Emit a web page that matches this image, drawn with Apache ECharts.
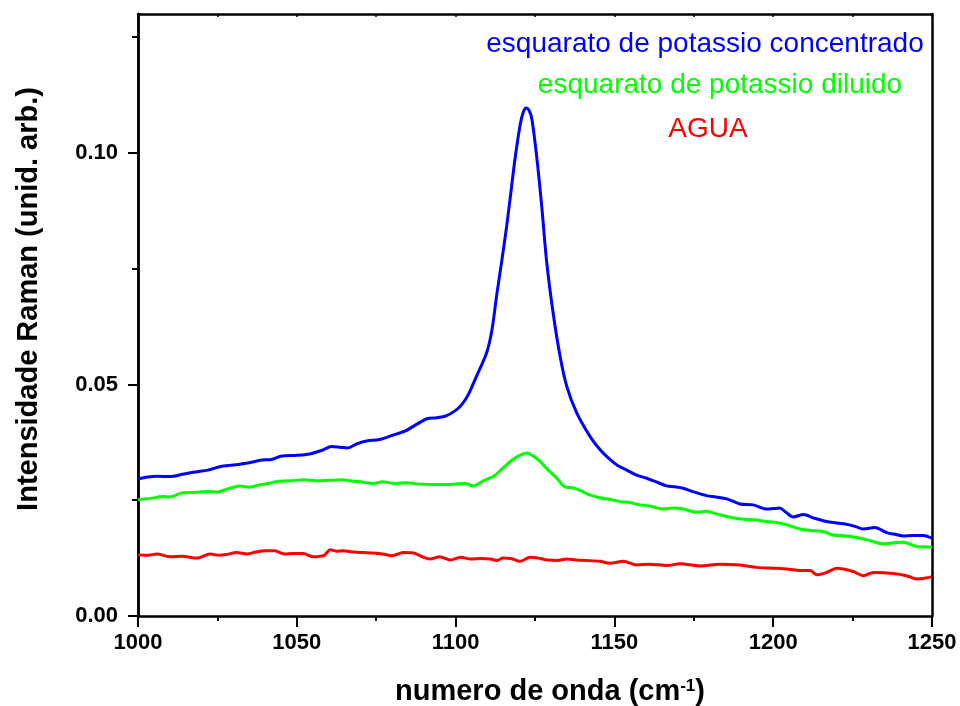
<!DOCTYPE html>
<html>
<head>
<meta charset="utf-8">
<script src="https://cdn.jsdelivr.net/npm/echarts@6/dist/echarts.min.js"></script>
<style>html,body{margin:0;padding:0;background:#fff}#c{width:960px;height:706px}</style>
</head>
<body>
<div id="c"></div>
<script>
// ---- data ----
const seriesNames = ['esquarato de potassio concentrado', 'esquarato de potassio diluido', 'AGUA'];
const xTicks = [1000, 1050, 1100, 1150, 1200, 1250];
const yTicks = [0, 0.05, 0.10];
const yMinorTicks = [0.025, 0.075, 0.125];

const blueX = [1000,1003,1006,1010,1014,1018,1022,1026,1030,1035,1039,1042,1045,1050,1054,1058,1061,1064,1066,1069,1072,1076,1080,1084,1088,1091,1094,1097,1100,1102,1104,1106.6,1109.8,1111.5,1112.9,1114.5,1116.1,1117.5,1118.7,1120.3,1121.3,1122.2,1123.1,1124,1125.5,1127.1,1128.7,1130.7,1132.9,1135,1138.1,1142.3,1145.5,1148.6,1151,1153.9,1157,1160,1163,1166.5,1169,1171.6,1175,1179,1182,1185.4,1189.5,1193.7,1198,1200,1202,1204,1206.3,1209.5,1213,1216.8,1220,1223.1,1226,1228.3,1232,1235.7,1238,1241,1244,1247.3,1250];
const blueY = [0.0296,0.0300,0.0302,0.0301,0.0306,0.0311,0.0315,0.0323,0.0326,0.0331,0.0337,0.0338,0.0345,0.0347,0.0350,0.0358,0.0366,0.0364,0.0363,0.0372,0.0378,0.0381,0.0390,0.0399,0.0415,0.0426,0.0428,0.0432,0.0444,0.0457,0.0478,0.0518,0.0569,0.0620,0.0691,0.0765,0.0843,0.0920,0.0987,0.1060,0.1088,0.1097,0.1092,0.1074,0.0994,0.0886,0.0763,0.0655,0.0561,0.0496,0.0439,0.0388,0.0359,0.0338,0.0325,0.0315,0.0304,0.0298,0.0290,0.0281,0.0279,0.0276,0.0268,0.0260,0.0257,0.0253,0.0242,0.0240,0.0231,0.0232,0.0233,0.0224,0.0214,0.0219,0.0211,0.0204,0.0201,0.0198,0.0193,0.0188,0.0191,0.0180,0.0177,0.0173,0.0174,0.0174,0.0168];

const greenX = [1000,1004,1008,1010,1014,1018,1022,1025,1028,1032,1035,1038,1041,1044,1048,1052,1056,1060,1064,1068,1071,1074,1077,1081,1084.6,1088,1092,1096,1100,1103,1105.6,1109,1112,1115,1118,1120.5,1122.5,1124.5,1126.6,1129,1131.8,1134.4,1137,1139.5,1142,1145.5,1148.6,1151.8,1155,1158,1161.5,1165.4,1168.5,1171.7,1175.9,1179,1182,1185.3,1190.6,1194,1198,1201,1204.3,1208.4,1213,1216,1218.8,1223,1226,1229.4,1234.6,1238,1241,1245.2,1250];
const greenY = [0.0251,0.0254,0.0258,0.0257,0.0266,0.0267,0.0269,0.0268,0.0274,0.0281,0.0278,0.0283,0.0286,0.0291,0.0292,0.0294,0.0292,0.0293,0.0294,0.0291,0.0289,0.0286,0.0290,0.0286,0.0288,0.0285,0.0284,0.0284,0.0285,0.0286,0.0281,0.0293,0.0302,0.0320,0.0338,0.0348,0.0352,0.0345,0.0334,0.0316,0.0298,0.0279,0.0277,0.0270,0.0262,0.0255,0.0252,0.0247,0.0245,0.0240,0.0237,0.0231,0.0233,0.0231,0.0224,0.0226,0.0221,0.0215,0.0209,0.0208,0.0204,0.0202,0.0197,0.0188,0.0184,0.0182,0.0175,0.0173,0.0170,0.0165,0.0156,0.0158,0.0159,0.0150,0.0149];

const redX = [1000,1003,1006,1010,1014,1018.5,1022.7,1025.6,1028,1031,1034.4,1037,1039.8,1043,1046,1049,1052,1055,1058.6,1060.5,1062.5,1064.5,1068,1071,1074,1077,1080,1083.5,1086.7,1089.5,1092,1095,1098.4,1101.6,1104.7,1108,1111,1113,1115,1117.5,1120.3,1123.5,1126,1129,1132,1135,1138,1141,1145.5,1148.6,1152.8,1157,1161,1166.5,1170.7,1177,1183.3,1189.6,1194.8,1201.2,1205,1208.4,1211.6,1213.7,1216.8,1220,1225.2,1228.4,1231.5,1237.8,1242,1245.2,1248,1250];
const redY = [0.0132,0.0131,0.0134,0.0128,0.0129,0.0125,0.0134,0.0131,0.0133,0.0137,0.0134,0.0138,0.0141,0.0141,0.0134,0.0135,0.0135,0.0128,0.0131,0.0143,0.0140,0.0141,0.0138,0.0137,0.0136,0.0134,0.0130,0.0137,0.0136,0.0128,0.0123,0.0128,0.0121,0.0127,0.0123,0.0124,0.0123,0.0120,0.0125,0.0124,0.0118,0.0127,0.0125,0.0121,0.0120,0.0123,0.0121,0.0120,0.0118,0.0114,0.0118,0.0110,0.0112,0.0109,0.0113,0.0108,0.0112,0.0110,0.0105,0.0103,0.0101,0.0098,0.0098,0.0089,0.0094,0.0103,0.0096,0.0087,0.0094,0.0092,0.0087,0.0080,0.0082,0.0085];

const colors = ['#0000ff', '#00ff00', '#ff0000'];

function pairs(xs, ys) { return xs.map((x, i) => [x, ys[i]]); }

const chart = echarts.init(document.getElementById('c'), null, {renderer: 'canvas'});
const lineAxis = {show: true, onZero: false, lineStyle: {color: '#000', width: 2.5}};
const labelFont = {color: '#000', fontFamily: 'Liberation Sans, Arial, sans-serif', fontWeight: 'bold', fontSize: 22};

chart.setOption({
  animation: false,
  backgroundColor: '#fff',
  grid: {left: 138, right: 28, top: 14, bottom: 90, containLabel: false},
  xAxis: [
    {type: 'value', position: 'bottom', min: 1000, max: 1250, interval: 50,
     axisLine: lineAxis,
     axisTick: {show: true, inside: false, length: 11, lineStyle: {color: '#000', width: 2}},
     minorTick: {show: true, splitNumber: 2, length: 5, lineStyle: {color: '#000', width: 2}},
     axisLabel: Object.assign({margin: 16, customValues: xTicks, formatter: v => String(v)}, labelFont),
     splitLine: {show: false}},
    {type: 'value', position: 'top', min: 1000, max: 1250, interval: 25,
     axisLine: lineAxis,
     axisTick: {show: true, inside: true, length: 3, lineStyle: {color: '#000', width: 1.5}},
     axisLabel: {show: false}, splitLine: {show: false}}
  ],
  yAxis: [
    {type: 'value', position: 'left', min: 0, max: 0.13, interval: 0.05,
     axisLine: lineAxis,
     axisTick: {show: true, inside: false, length: 10, customValues: yTicks, lineStyle: {color: '#000', width: 2}},
     axisLabel: Object.assign({margin: 20, customValues: yTicks, formatter: v => v.toFixed(2)}, labelFont),
     splitLine: {show: false}},
    {type: 'value', position: 'left', offset: 0, min: 0, max: 0.13, interval: 0.05,
     axisLine: {show: true, onZero: false, lineStyle: {color: '#000', width: 2.5}},
     axisTick: {show: true, inside: false, length: 6, customValues: yMinorTicks, lineStyle: {color: '#000', width: 2}},
     axisLabel: {show: false}, splitLine: {show: false}},
    {type: 'value', position: 'right', min: 0, max: 0.13, interval: 0.05,
     axisLine: lineAxis, axisTick: {show: false}, axisLabel: {show: false}, splitLine: {show: false}}
  ],
  series: [
    {name: seriesNames[2], type: 'line', data: pairs(redX, redY), showSymbol: false, smooth: 0.3,
     lineStyle: {color: colors[2], width: 3}, xAxisIndex: 0, yAxisIndex: 0},
    {name: seriesNames[1], type: 'line', data: pairs(greenX, greenY), showSymbol: false, smooth: 0.3,
     lineStyle: {color: colors[1], width: 3}, xAxisIndex: 0, yAxisIndex: 0},
    {name: seriesNames[0], type: 'line', data: pairs(blueX, blueY), showSymbol: false, smooth: 0.3,
     lineStyle: {color: colors[0], width: 3}, xAxisIndex: 0, yAxisIndex: 0}
  ],
  graphic: [
    {type: 'text', x: 705, y: 44, style: {text: seriesNames[0], fill: colors[0], font: '28px "Liberation Sans", Arial, sans-serif', textAlign: 'center', textVerticalAlign: 'middle'}},
    {type: 'text', x: 720, y: 85, style: {text: seriesNames[1], fill: colors[1], font: '28px "Liberation Sans", Arial, sans-serif', textAlign: 'center', textVerticalAlign: 'middle'}},
    {type: 'text', x: 708, y: 129, style: {text: seriesNames[2], fill: colors[2], font: '28px "Liberation Sans", Arial, sans-serif', textAlign: 'center', textVerticalAlign: 'middle'}},
    {type: 'text', x: 29, y: 299, rotation: Math.PI / 2,
     style: {text: 'Intensidade Raman (unid. arb.)', fill: '#000', font: 'bold 29px "Liberation Sans", Arial, sans-serif', textAlign: 'center', textVerticalAlign: 'middle'}},
    {type: 'text', x: 550, y: 692,
     style: {text: '{n|numero de onda (cm}{s|-1}{n|)}', textAlign: 'center', textVerticalAlign: 'middle',
       rich: {n: {fill: '#000', fontFamily: '"Liberation Sans", Arial, sans-serif', fontWeight: 'bold', fontSize: 29},
              s: {fill: '#000', fontFamily: '"Liberation Sans", Arial, sans-serif', fontWeight: 'bold', fontSize: 17, verticalAlign: 'top', padding: [0, 0, 12, 0]}}}}
  ]
});
</script>
</body>
</html>
